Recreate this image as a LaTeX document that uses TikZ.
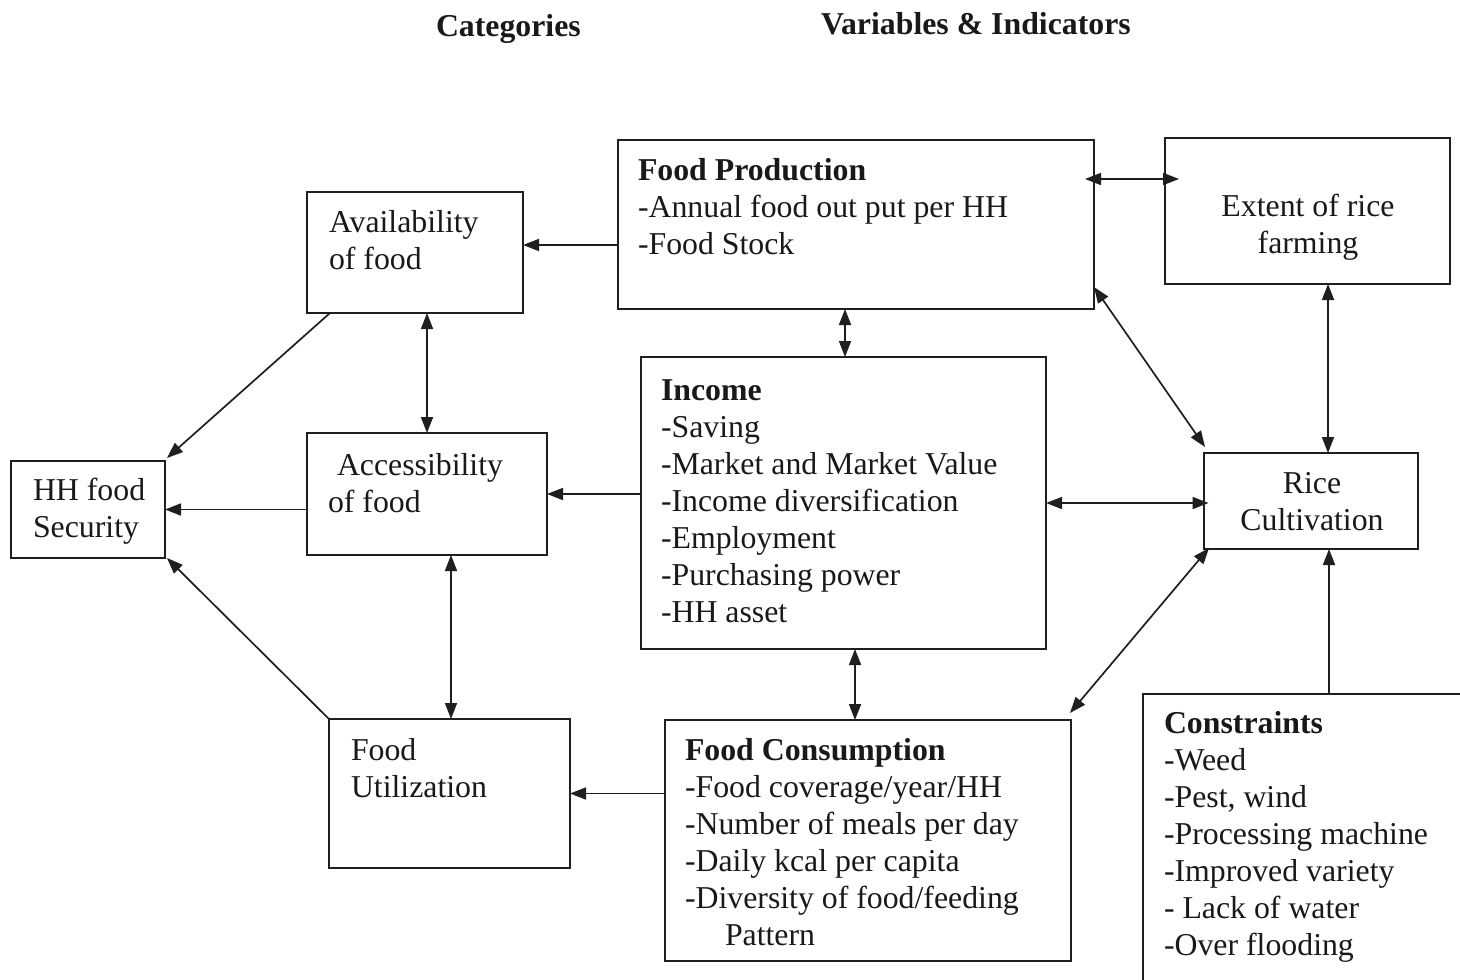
\documentclass[tikz,border=0pt]{standalone}
\usepackage{fontspec}
\setmainfont{Liberation Serif}
\usetikzlibrary{arrows.meta,calc}

% one text line, left aligned / centred on the anchor
\newcommand\tline[1]{\hbox{#1}}
\newcommand\ctline[1]{\hbox to 0pt{\hss#1\hss}}
% a block of lines whose baseline is the baseline of its first line
\newcommand\stack[1]{\vtop{\baselineskip=18.5pt\lineskiplimit=-20pt #1}}

\definecolor{inkc}{rgb}{0.12,0.12,0.12}
\definecolor{textc}{rgb}{0.10,0.10,0.10}

\begin{document}
\begin{tikzpicture}[x=0.5pt,y=-0.5pt,
  box/.style={draw=inkc, line width=1pt, rectangle, inner sep=0pt, outer sep=0pt},
  txt/.style={inner sep=0pt, outer sep=0pt, anchor=base west, text=textc,
    font=\fontsize{15.9pt}{18.5pt}\selectfont},
  ctxt/.style={txt, anchor=base},
  conn/.style={draw=inkc, line width=0.85pt},
  onearr/.style={conn, -{Triangle[length=8pt,width=6pt]}},
  twoarr/.style={conn, {Triangle[length=8pt,width=6pt]}-{Triangle[length=8pt,width=6pt]}},
]
\useasboundingbox (0,0) rectangle (1460,979);
\clip (0,0) rectangle (1460,979);
\fill[white] (0,0) rectangle (1460,979);

% column headings
\node[txt] (hcat) at (436,37) {\textbf{Categories}};
\node[txt] (hvar) at (821,35) {\textbf{Variables \& Indicators}};

% boxes
\node[box, minimum width=108pt,   minimum height=60.5pt] (avail)  at (415,252.5) {};
\node[box, minimum width=238pt,   minimum height=84.5pt] (fp)     at (856,224.5) {};
\node[box, minimum width=142.5pt, minimum height=73pt]   (ext)    at (1307.5,211) {};
\node[box, minimum width=77pt,    minimum height=48.5pt] (hh)     at (88,509.5) {};
\node[box, minimum width=120pt,   minimum height=61pt]   (acc)    at (427,494) {};
\node[box, minimum width=202.5pt, minimum height=146pt]  (inc)    at (843.5,503) {};
\node[box, minimum width=107pt,   minimum height=48pt]   (rice)   at (1310.5,501) {};
\node[box, minimum width=120.5pt, minimum height=74.5pt] (util)   at (449.5,793.5) {};
\node[box, minimum width=203pt,   minimum height=120.5pt](cons)   at (868,840.5) {};
\node[box, minimum width=173.5pt, minimum height=158pt]  (constr) at (1316.5,852) {};

% box texts
\node[txt] (availt) at (329,232) {\stack{\tline{Availability}\tline{of food}}};
\node[txt] (fpt) at (638,180) {\stack{\tline{\textbf{Food Production}}%
  \tline{-Annual food out put per HH}\tline{-Food Stock}}};
\node[ctxt] (extt) at (1308,216) {\stack{\ctline{Extent of rice}\ctline{farming}}};
\node[txt] (hht) at (33,500) {\stack{\tline{HH food}\tline{Security}}};
\node[txt] (acct) at (328,475) {\stack{\tline{\kern4.5pt Accessibility}\tline{of food}}};
\node[txt] (inct) at (661,400) {\stack{\tline{\textbf{Income}}\tline{-Saving}%
  \tline{-Market and Market Value}\tline{-Income diversification}%
  \tline{-Employment}\tline{-Purchasing power}\tline{-HH asset}}};
\node[ctxt] (ricet) at (1312,493) {\stack{\ctline{Rice}\ctline{Cultivation}}};
\node[txt] (utilt) at (351,760) {\stack{\tline{Food}\tline{Utilization}}};
\node[txt] (const) at (685,760) {\stack{\tline{\textbf{Food Consumption}}%
  \tline{-Food coverage/year/HH}\tline{-Number of meals per day}%
  \tline{-Daily kcal per capita}\tline{-Diversity of food/feeding}%
  \tline{\kern20pt Pattern}}};
\node[txt] (constrt) at (1164,733) {\stack{\tline{\textbf{Constraints}}\tline{-Weed}%
  \tline{-Pest, wind}\tline{-Processing machine}\tline{-Improved variety}%
  \tline{- Lack of water}\tline{-Over flooding}}};

% connectors
\draw[onearr] ($(fp.west)+(0,20.5)$) -- ($(avail.east)+(0,-7.5)$);
\draw[onearr] ($(avail.south west)+(23,0)$) -- ($(hh.north east)+(2,-3)$);
\draw[twoarr] (avail.south -| acc.north) -- (acc.north);
\draw[onearr] (acc.west |- hh.east) -- (hh.east);
\draw[onearr] (inc.west |- acc.east) -- (acc.east);
\draw[twoarr] ($(acc.south -| util.north)+(1.5,0)$) -- ($(util.north)+(1.5,0)$);
\draw[onearr] (util.north west) -- ($(hh.south east)+(2,0)$);
\draw[onearr] (cons.west |- util.east) -- (util.east);
\draw[twoarr] ($(inc.north |- fp.south)+(1.5,0)$) -- ($(inc.north)+(1.5,0)$);
\draw[twoarr, shorten <=-4.5pt, shorten >=-7pt] ($(fp.east)+(0,-45.5)$) -- ($(ext.west)+(0,-32)$);
\draw[twoarr] ($(fp.south east)+(0,-22)$) -- ($(rice.north west)+(1.5,-6)$);
\draw[twoarr] ($(ext.south)+(20.5,0)$) -- ($(rice.north)+(17.5,0)$);
\draw[twoarr, shorten >=-2.5pt] (inc.east) -- (rice.west |- inc.east);
\draw[twoarr] ($(rice.south west)+(5.5,-1)$) -- ($(cons.north east)+(-1,-7)$);
\draw[twoarr] ($(inc.south)+(11.5,0)$) -- ($(cons.north)+(-13,0)$);
\draw[onearr] ($(constr.north west)+(186,0)$) -- ($(rice.south)+(18.5,0)$);
\end{tikzpicture}
\end{document}
